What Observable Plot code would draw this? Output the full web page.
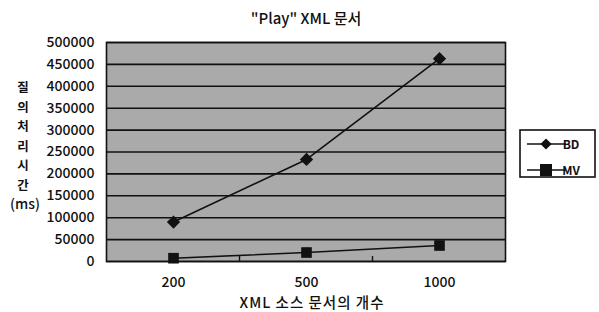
<!DOCTYPE html>
<html><head><meta charset="utf-8">
<script src="https://cdn.jsdelivr.net/npm/d3@7"></script>
<script src="https://cdn.jsdelivr.net/npm/@observablehq/plot@0.6"></script>
<style>
html,body{margin:0;padding:0;background:#fff;}
#chart{position:relative;width:599px;height:312px;}
svg{font-family:"Noto Sans CJK KR",sans-serif;}
</style></head>
<body><div id="chart"></div>
<script>
const categories = ["200", "500", "1000"];
const seriesNames = ["BD", "MV"];
const bdValues = [90000, 233000, 463000];
const mvValues = [7500, 20500, 36500];
const yTicks = [0, 50000, 100000, 150000, 200000, 250000, 300000, 350000, 400000, 450000, 500000];
const titleText = "\"Play\" XML 문서";
const xTitle = "XML 소스 문서의 개수";
const yTitleChars = ["질", "의", "처", "리", "시", "간", "(ms)"];

const data = [];
categories.forEach((c, i) => {
  data.push({cat: c, series: "BD", value: bdValues[i]});
  data.push({cat: c, series: "MV", value: mvValues[i]});
});

const chart = Plot.plot({
  width: 599, height: 312,
  marginLeft: 106, marginRight: 94, marginTop: 42, marginBottom: 51,
  style: {fontFamily: '"Noto Sans CJK KR", sans-serif', fontSize: "14px", fontWeight: 500, background: "transparent", color: "#111"},
  x: {type: "point", domain: categories, padding: 0.5, label: null, tickSize: 0, tickPadding: 16},
  y: {domain: [0, 500000], ticks: yTicks, tickFormat: d => String(d), label: null, tickSize: 0, tickPadding: 12},
  marks: [
    Plot.frame({fill: "#aaaaaa", stroke: "none"}),
    Plot.ruleY(yTicks, {stroke: "#111", strokeWidth: 1.6}),
    Plot.frame({stroke: "#111", strokeWidth: 1.6}),
    Plot.line(data, {x: "cat", y: "value", z: "series", stroke: "#111", strokeWidth: 1.6}),
    Plot.dot(data.filter(d => d.series === "BD"), {x: "cat", y: "value", symbol: "diamond2", r: 6, fill: "#111", stroke: "none"}),
    Plot.dot(data.filter(d => d.series === "MV"), {x: "cat", y: "value", symbol: "square", r: 6, fill: "#111", stroke: "none"})
  ]
});
document.getElementById("chart").appendChild(chart);

const svg = d3.select(chart);
const xs = chart.scale("x");
const ys = chart.scale("y");
const font = '"Noto Sans CJK KR", sans-serif';
const y0 = ys.apply(0);
// inner category boundary ticks
for (let i = 0; i < categories.length - 1; i++) {
  const bx = (xs.apply(categories[i]) + xs.apply(categories[i + 1])) / 2;
  svg.append("line").attr("x1", bx).attr("x2", bx).attr("y1", y0 - 5).attr("y2", y0).attr("stroke", "#111").attr("stroke-width", 1.4);
}
const midX = (xs.apply(categories[0]) + xs.apply(categories[categories.length - 1])) / 2;
svg.append("text").attr("x", midX).attr("y", 24).attr("text-anchor", "middle")
  .attr("font-family", font).attr("font-size", 15).attr("font-weight", 500).attr("fill", "#111").text(titleText);
svg.append("text").attr("x", midX + 6).attr("y", 308).attr("text-anchor", "middle").attr("letter-spacing", 1)
  .attr("font-family", font).attr("font-size", 14.5).attr("font-weight", 500).attr("fill", "#111").text(xTitle);
yTitleChars.forEach((ch, i) => {
  svg.append("text").attr("x", ch.length > 1 ? 25 : 23).attr("y", 92 + i * 19.5).attr("text-anchor", "middle")
    .attr("font-family", font).attr("font-size", ch.length > 1 ? 14 : 12.5).attr("font-weight", ch.length > 1 ? 500 : 700).attr("fill", "#111").text(ch);
});
// legend
const lg = svg.append("g");
lg.append("rect").attr("x", 520).attr("y", 130).attr("width", 75).attr("height", 47).attr("fill", "#fff").attr("stroke", "#111").attr("stroke-width", 1.6);
seriesNames.forEach((s, i) => {
  const ly = 144 + i * 26;
  lg.append("line").attr("x1", 527).attr("x2", 566).attr("y1", ly).attr("y2", ly).attr("stroke", "#111").attr("stroke-width", 1.6);
  if (s === "BD") {
    lg.append("path").attr("d", d3.symbol(d3.symbolDiamond2, 80)()).attr("transform", `translate(546,${ly})`).attr("fill", "#111");
  } else {
    lg.append("rect").attr("x", 540).attr("y", ly - 6).attr("width", 12).attr("height", 12).attr("fill", "#111");
  }
  lg.append("text").attr("x", 571).attr("y", ly + 5).attr("font-family", font).attr("font-size", 12).attr("font-weight", 700).attr("fill", "#111").text(s);
});
</script></body></html>
